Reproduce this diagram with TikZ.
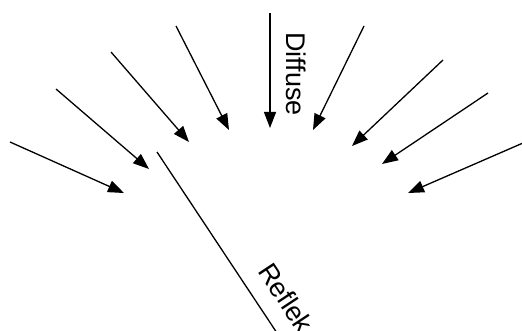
\documentclass[tikz,border=0pt]{standalone}
\usepackage{fontspec}
\setmainfont{Liberation Sans}
\usetikzlibrary{arrows.meta}
\begin{document}
\begin{tikzpicture}[x=1pt,y=-1pt,
  ray/.style={line width=1.3pt,-{Triangle[length=16pt,width=12pt]}},
  refl/.style={line width=1.3pt},
  lbl/.style={inner sep=0pt,anchor=base west,font=\fontsize{27}{32}\selectfont}]
\useasboundingbox (0,0) rectangle (522,331);
% incoming rays: start and tip points
\coordinate (s1) at (10,142);  \coordinate (t1) at (124,193);
\coordinate (s2) at (56,89);   \coordinate (t2) at (149,169);
\coordinate (s3) at (111,52);  \coordinate (t3) at (189,142);
\coordinate (s4) at (176,26);  \coordinate (t4) at (229,130);
\coordinate (s5) at (270,13);  \coordinate (t5) at (270,128);
\coordinate (s6) at (364,26);  \coordinate (t6) at (313,130);
\coordinate (s7) at (443,60);  \coordinate (t7) at (352,146);
\coordinate (s8) at (488,93);  \coordinate (t8) at (382,164);
\coordinate (s9) at (523,143); \coordinate (t9) at (408,193);
\foreach \i in {1,...,9} \draw[ray] (s\i) -- (t\i);
% reflected ray
\coordinate (r0) at (157,152);
\coordinate (r1) at (277,333);
\draw[refl] (r0) -- (r1);
% labels
\node[lbl,rotate=-90] (diff) at (286,32) {Diffuse};
\node[lbl,rotate=-56.5] (refl) at (257,271) {Reflek};
\end{tikzpicture}
\end{document}
